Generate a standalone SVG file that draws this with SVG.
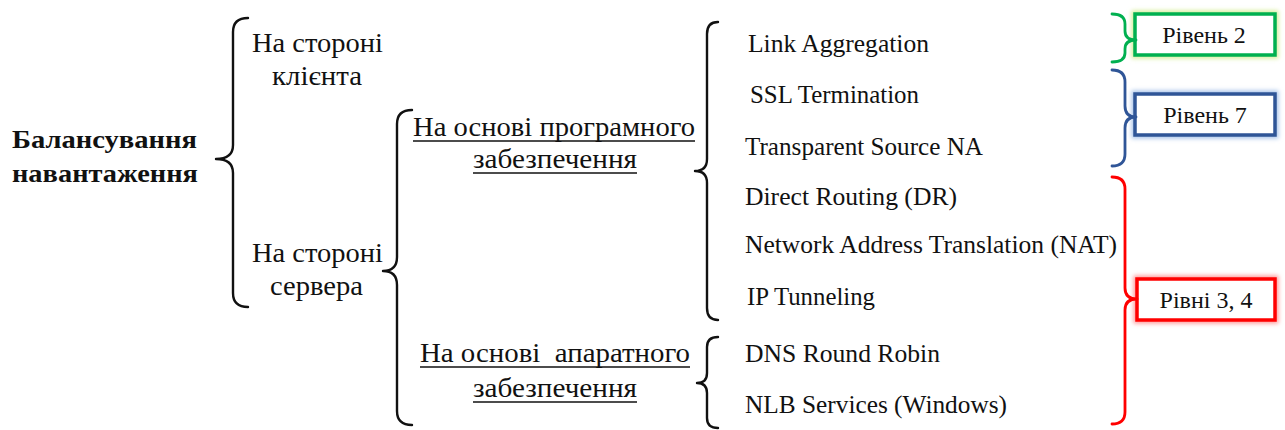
<svg xmlns="http://www.w3.org/2000/svg" width="1285" height="430" viewBox="0 0 1285 430">
  <defs>
    <style>
      text { font-family: "Liberation Serif", "Times New Roman", Tinos, "Noto Serif", FreeSerif, "DejaVu Serif", serif; fill: #111; }
      .title { font-size: 26px; font-weight: bold; }
      .cy { font-size: 27px; }
      .la { font-size: 24.5px; }
      .lv { font-size: 24px; text-anchor: middle; }
      .brace { fill: none; stroke: #111; stroke-width: 2.4; stroke-linecap: round; stroke-linejoin: round; }
      .ul { stroke: #111; stroke-width: 1.4; }
      .cb { fill: none; stroke-width: 2.8; stroke-linecap: round; stroke-linejoin: round; }
      .box { fill: #fff; stroke-width: 3.5; }
      .glow { fill: none; stroke-width: 7; filter: url(#blur); }
    </style>
    <filter id="blur" x="-20%" y="-40%" width="140%" height="180%">
      <feGaussianBlur stdDeviation="2"/>
    </filter>
  </defs>

  <g id="root">
    <text class="title" x="12" y="148" textLength="185" lengthAdjust="spacingAndGlyphs">Балансування</text>
    <text class="title" x="12" y="182" textLength="186" lengthAdjust="spacingAndGlyphs">навантаження</text>
  </g>

  <g id="client">
    <text class="cy" x="252" y="52" textLength="131" lengthAdjust="spacingAndGlyphs">На стороні</text>
    <text class="cy" x="272" y="85" textLength="90" lengthAdjust="spacingAndGlyphs">клієнта</text>
  </g>

  <g id="server">
    <text class="cy" x="252" y="262" textLength="131" lengthAdjust="spacingAndGlyphs">На стороні</text>
    <text class="cy" x="270" y="295" textLength="93" lengthAdjust="spacingAndGlyphs">сервера</text>
  </g>

  <g id="software">
    <text class="cy" x="413" y="136" textLength="282" lengthAdjust="spacingAndGlyphs">На основі програмного</text>
    <line class="ul" x1="413" y1="141" x2="695" y2="141"/>
    <text class="cy" x="473" y="168" textLength="164" lengthAdjust="spacingAndGlyphs">забезпечення</text>
    <line class="ul" x1="473" y1="173" x2="637" y2="173"/>
  </g>

  <g id="hardware">
    <text class="cy" x="420" y="362" textLength="270" lengthAdjust="spacingAndGlyphs" style="white-space:pre">На основі  апаратного</text>
    <line class="ul" x1="420" y1="367" x2="690" y2="367"/>
    <text class="cy" x="473" y="397" textLength="164" lengthAdjust="spacingAndGlyphs">забезпечення</text>
    <line class="ul" x1="473" y1="402" x2="637" y2="402"/>
  </g>

  <g id="item-link-aggregation"><text class="la" x="748" y="52" textLength="181" lengthAdjust="spacingAndGlyphs">Link Aggregation</text></g>
  <g id="item-ssl"><text class="la" x="750" y="103" textLength="169" lengthAdjust="spacingAndGlyphs">SSL Termination</text></g>
  <g id="item-tsna"><text class="la" x="745" y="155" textLength="238" lengthAdjust="spacingAndGlyphs">Transparent Source NA</text></g>
  <g id="item-dr"><text class="la" x="745" y="205" textLength="212" lengthAdjust="spacingAndGlyphs">Direct Routing (DR)</text></g>
  <g id="item-nat"><text class="la" x="745" y="253" textLength="372" lengthAdjust="spacingAndGlyphs">Network Address Translation (NAT)</text></g>
  <g id="item-ip"><text class="la" x="747" y="305" textLength="128" lengthAdjust="spacingAndGlyphs">IP Tunneling</text></g>
  <g id="item-dns"><text class="la" x="745" y="362" textLength="195" lengthAdjust="spacingAndGlyphs">DNS Round Robin</text></g>
  <g id="item-nlb"><text class="la" x="745" y="413" textLength="262" lengthAdjust="spacingAndGlyphs">NLB Services (Windows)</text></g>

  <g id="level2">
    <rect class="glow" x="1135" y="14" width="140" height="41" stroke="#d6ee9a"/>
    <rect class="box" x="1135" y="14" width="140" height="41" stroke="#00B050"/>
    <text class="lv" x="1204" y="43">Рівень 2</text>
  </g>
  <g id="level7">
    <rect class="glow" x="1135" y="94" width="140" height="41" stroke="#a9c4ea"/>
    <rect class="box" x="1135" y="94" width="140" height="41" stroke="#2F5597"/>
    <text class="lv" x="1205" y="123">Рівень 7</text>
  </g>
  <g id="level34">
    <rect class="glow" x="1137" y="279" width="138" height="41" stroke="#ff9a9a"/>
    <rect class="box" x="1137" y="279" width="138" height="41" stroke="#FF0000"/>
    <text class="lv" x="1206" y="308">Рівні 3, 4</text>
  </g>

  <g id="connectors">
    <path class="brace" d="M248,18 Q233,18 233,32 L233,145 Q233,159 216,159 Q233,159 233,173 L233,293 Q233,307 248,307"/>
    <path class="brace" d="M412,110 Q397,110 397,124 L397,257 Q397,271 383,271 Q397,271 397,285 L397,411 Q397,425 412,425"/>
    <path class="brace" d="M718,22 Q707,22 707,34 L707,159 Q707,171 695,171 Q707,171 707,183 L707,308 Q707,320 718,320"/>
    <path class="brace" d="M718,337 Q707,337 707,347 L707,373 Q707,383 697,383 Q707,383 707,393 L707,418 Q707,428 718,428"/>
    <path class="cb" stroke="#00B050" d="M1112,14 Q1125,14 1125,24 L1125,31 Q1125,40 1136,40 Q1125,40 1125,49 L1125,53 Q1125,62 1112,62"/>
    <path class="cb" stroke="#2F5597" d="M1112,70 Q1125,70 1125,82 L1125,106 Q1125,117 1136,117 Q1125,117 1125,128 L1125,154 Q1125,166 1112,166"/>
    <path class="cb" stroke="#FF0000" d="M1112,177 Q1125,177 1125,189 L1125,288 Q1125,299 1137,299 Q1125,299 1125,310 L1125,412 Q1125,424 1112,424"/>
  </g>
</svg>
